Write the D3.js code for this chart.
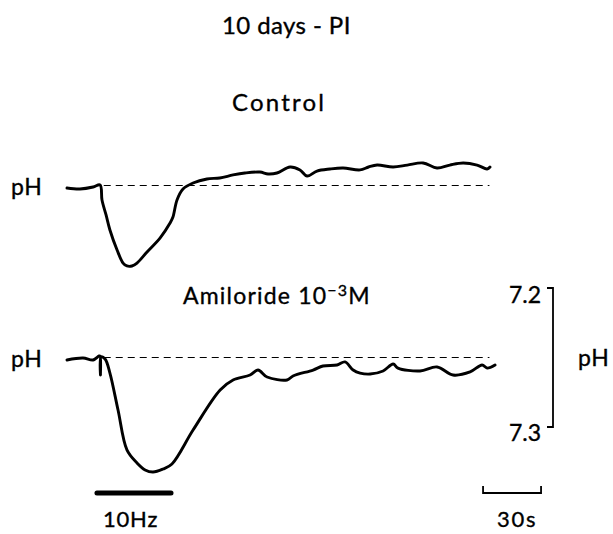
<!DOCTYPE html>
<html>
<head>
<meta charset="utf-8">
<script src="https://cdn.jsdelivr.net/npm/d3@7"></script>
<style>
  html, body { margin: 0; padding: 0; background: #fff; }
  svg text { font-family: Lato, "Open Sans", sans-serif; fill: #000; stroke: #000; stroke-width: 0.35px; }
</style>
</head>
<body>
<svg id="fig" width="613" height="534"></svg>
<script>
// Intracellular pH recordings, 10 days post-injury: time in s, pH
const controlTime = [0, 6.7, 13.5, 17.1, 18.1, 20.2, 22.2, 25.9, 29.0, 31.0, 33.6, 36.2, 41.4, 48.1, 53.3, 54.8, 56.9, 60.0, 65.2, 72.4, 79.0, 85.9, 92.0, 99.8, 104.0, 108.6, 115.4, 120.5, 124.2, 129.3, 136.0, 142.8, 151.6, 156.0, 160.4, 168.7, 176.0, 184.2, 191.4, 198.0, 204.9, 212.1, 217.3, 218.8];
const controlPH   = [7.2518, 7.2525, 7.2511, 7.2496, 7.2604, 7.2712, 7.2820, 7.2964, 7.3058, 7.3079, 7.3079, 7.3058, 7.2978, 7.2878, 7.2770, 7.2727, 7.2604, 7.2525, 7.2482, 7.2453, 7.2446, 7.2424, 7.2410, 7.2403, 7.2417, 7.2410, 7.2367, 7.2388, 7.2432, 7.2396, 7.2381, 7.2374, 7.2388, 7.2367, 7.2353, 7.2367, 7.2353, 7.2338, 7.2374, 7.2353, 7.2338, 7.2353, 7.2381, 7.2367];

const amilorideTime = [0, 8.3, 13.5, 16.6, 17.1, 17.3, 17.6, 19.7, 22.2, 26.4, 31.0, 36.2, 40.4, 44.5, 49.7, 54.3, 65.2, 79.2, 85.9, 94.7, 98.8, 103.5, 113.8, 116.9, 127.3, 132.4, 139.7, 143.8, 148.0, 151.6, 156.8, 163.5, 168.7, 171.2, 182.6, 191.4, 199.7, 208.5, 214.7, 217.3, 221.4];
const amiloridePH   = [7.2518, 7.2504, 7.2518, 7.2489, 7.2489, 7.2626, 7.2496, 7.2511, 7.2612, 7.2878, 7.3165, 7.3259, 7.3309, 7.3324, 7.3302, 7.3266, 7.3022, 7.2734, 7.2662, 7.2626, 7.2590, 7.2640, 7.2662, 7.2633, 7.2590, 7.2561, 7.2554, 7.2532, 7.2590, 7.2612, 7.2619, 7.2597, 7.2547, 7.2576, 7.2597, 7.2568, 7.2626, 7.2604, 7.2554, 7.2576, 7.2554];

const restingPH = 7.25;            // dashed reference level
const pHScaleTicks = ["7.2", "7.3"];
const stimulus = [15.5, 53.8];     // 10 Hz train, s
const timeBar = [215.2, 245.2];    // 30 s calibration

const svg = d3.select("#fig");

const x = d3.scaleLinear().domain([0, 220]).range([67, 67 + 220 * 58 / 30]);
// pH axis: 7.2 up, 7.3 down; the two traces share the gain, offset vertically
const yAmil = d3.scaleLinear().domain([7.2, 7.3]).range([288, 427]);
const yCtrl = d3.scaleLinear().domain([7.2, 7.3]).range([116, 255]);

function trace(times, values, y) {
  const pts = times.map((t, i) => [t, values[i]]);
  const line = d3.line().x(d => x(d[0])).y(d => y(d[1])).curve(d3.curveCatmullRom.alpha(0.5));
  svg.append("path").attr("d", line(pts))
    .attr("fill", "none").attr("stroke", "#000")
    .attr("stroke-width", 2.9).attr("stroke-linejoin", "round").attr("stroke-linecap", "round");
}

function baseline(y) {
  svg.append("line")
    .attr("x1", x(19)).attr("x2", x(218.5))
    .attr("y1", y(restingPH)).attr("y2", y(restingPH))
    .attr("stroke", "#000").attr("stroke-width", 1.1)
    .attr("stroke-dasharray", "7,5");
}

baseline(yCtrl);
baseline(yAmil);
trace(controlTime, controlPH, yCtrl);
trace(amilorideTime, amiloridePH, yAmil);

function label(px, py, txt, size, spacing) {
  return svg.append("text").attr("x", px).attr("y", py)
    .attr("font-size", size).attr("letter-spacing", spacing || 0).text(txt);
}

// titles
label(222, 34, "10 days - PI", 24, 0.4);
label(232, 111, "Control", 24, 2.2);
const am = svg.append("text").attr("x", 183).attr("y", 304)
  .attr("font-size", 23).attr("letter-spacing", 1.2);
am.append("tspan").text("Amiloride 10");
am.append("tspan").attr("dy", -8).attr("font-size", 16).text("−3");
am.append("tspan").attr("dy", 8).text("M");

// left pH labels
[yCtrl, yAmil].forEach(y => {
  label(11, y(restingPH) + 9, "pH", 23, 0.8);
});

// pH calibration bracket
const bx = 553;
svg.append("path")
  .attr("d", `M${bx - 6},${yAmil(7.2)}H${bx}V${yAmil(7.3)}H${bx - 6}`)
  .attr("fill", "none").attr("stroke", "#000").attr("stroke-width", 1.8);
svg.append("text").attr("x", 541).attr("y", yAmil(7.2) + 15).attr("text-anchor", "end")
  .attr("font-size", 23).text(pHScaleTicks[0]);
svg.append("text").attr("x", 541).attr("y", yAmil(7.3) + 14).attr("text-anchor", "end")
  .attr("font-size", 23).text(pHScaleTicks[1]);
label(578, 366, "pH", 23, 0.8);

// stimulus bar
svg.append("line").attr("x1", x(stimulus[0])).attr("x2", x(stimulus[1]))
  .attr("y1", 493).attr("y2", 493).attr("stroke", "#000").attr("stroke-width", 5)
  .attr("stroke-linecap", "round");
label(103, 527, "10Hz", 22, 0.8);

// time calibration
svg.append("path")
  .attr("d", `M${x(timeBar[0])},486V493H${x(timeBar[1])}V486`)
  .attr("fill", "none").attr("stroke", "#000").attr("stroke-width", 1.8);
label(497, 527, "30s", 22, 1.8);
</script>
</body>
</html>
